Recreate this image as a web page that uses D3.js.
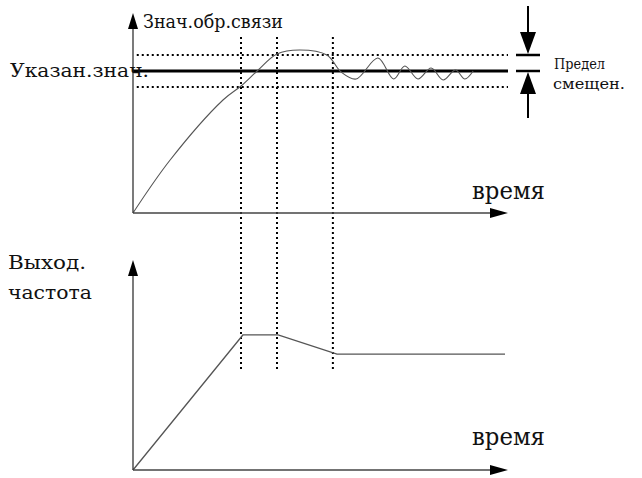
<!DOCTYPE html>
<html><head><meta charset="utf-8">
<script src="https://cdn.jsdelivr.net/npm/d3@7"></script>
<style>html,body{margin:0;padding:0;background:#fff}svg{display:block}</style>
</head><body>
<svg id="c" width="642" height="478"></svg>
<script>
// ---- data ----
const feedbackT = [0, 9.9, 24, 28.8, 33.1, 38.4, 44.5, 51.7, 55.5, 59.5, 65.3, 69.5, 72.5, 76, 79.5, 82.7, 86, 88.5, 90.7];
const feedbackV = [0, 26.5, 56.5, 63.5, 71, 79.5, 81.5, 79, 70.5, 67, 77.5, 67, 73.5, 67, 72.5, 66.5, 71.5, 67, 71];
const setpoint = 71;
const bandUpper = 79;
const bandLower = 63;
const markerT = [28.8, 38.4, 53.3];
const freqT = [0, 29.3, 38.7, 54.4, 99.2];
const freqV = [0, 64.3, 64.3, 55.2, 55.2];
const labels = {
  feedback: "Знач.обр.связи", setpoint: "Указан.знач.", time: "время",
  out1: "Выход.", out2: "частота", lim1: "Предел", lim2: "смещен."
};
const FONT = "'DejaVu Serif', 'Noto Serif', serif";

const svg = d3.select("#c");
const x = d3.scaleLinear().domain([0, 100]).range([133, 508]);
const yTop = d3.scaleLinear().domain([0, 100]).range([213, 13]);
const yBot = d3.scaleLinear().domain([0, 100]).range([470, 260]);

// vertical dotted markers
svg.selectAll("line.vm").data(markerT).enter().append("line")
  .attr("x1", d => x(d)).attr("x2", d => x(d))
  .attr("y1", 37).attr("y2", 370)
  .attr("stroke", "#000").attr("stroke-width", 2).attr("stroke-dasharray", "2 3");

// band dotted lines
svg.selectAll("line.band").data([bandUpper, bandLower]).enter().append("line")
  .attr("x1", x(1)).attr("x2", x(100))
  .attr("y1", d => yTop(d)).attr("y2", d => yTop(d))
  .attr("stroke", "#000").attr("stroke-width", 2).attr("stroke-dasharray", "2 3");

// setpoint line
svg.append("line").attr("x1", x(0)).attr("x2", x(100))
  .attr("y1", yTop(setpoint)).attr("y2", yTop(setpoint))
  .attr("stroke", "#000").attr("stroke-width", 3);

// feedback curve
const fb = feedbackT.map((t, i) => [t, feedbackV[i]]);
svg.append("path").datum(fb)
  .attr("d", d3.line().x(d => x(d[0])).y(d => yTop(d[1])).curve(d3.curveCatmullRom.alpha(0.5)))
  .attr("fill", "none").attr("stroke", "#555").attr("stroke-width", 1.1);

// frequency line
const fr = freqT.map((t, i) => [t, freqV[i]]);
svg.append("path").datum(fr)
  .attr("d", d3.line().x(d => x(d[0])).y(d => yBot(d[1])))
  .attr("fill", "none").attr("stroke", "#555").attr("stroke-width", 1.3);

// axes with arrows
function axes(y) {
  svg.append("line").attr("x1", x(0)).attr("x2", x(0)).attr("y1", y(0)).attr("y2", y(100) + 10)
    .attr("stroke", "#222").attr("stroke-width", 1.2);
  svg.append("line").attr("x1", x(0)).attr("x2", x(100) - 10).attr("y1", y(0)).attr("y2", y(0))
    .attr("stroke", "#444").attr("stroke-width", 1.5);
  const X0 = x(0), Yt = y(100), Xr = x(100), Y0 = y(0);
  svg.append("path").attr("d", `M${X0},${Yt} L${X0 - 5},${Yt + 16} L${X0 + 5},${Yt + 16} Z`).attr("fill", "#000");
  svg.append("path").attr("d", `M${Xr},${Y0} L${Xr - 18},${Y0 - 5} L${Xr - 18},${Y0 + 5} Z`).attr("fill", "#000");
}
axes(yTop);
axes(yBot);

// limit markers on right
const mx = 528, yU = yTop(bandUpper), yS = yTop(setpoint);
svg.append("line").attr("x1", mx).attr("x2", mx).attr("y1", 6).attr("y2", yU - 20).attr("stroke", "#000").attr("stroke-width", 2);
svg.append("path").attr("d", `M${mx},${yU - 1} L${mx - 8},${yU - 23} L${mx + 8},${yU - 23} Z`).attr("fill", "#000");
svg.append("line").attr("x1", mx).attr("x2", mx).attr("y1", yS + 22).attr("y2", 118).attr("stroke", "#000").attr("stroke-width", 2);
svg.append("path").attr("d", `M${mx},${yS + 1} L${mx - 8},${yS + 23} L${mx + 8},${yS + 23} Z`).attr("fill", "#000");
svg.selectAll("line.tick").data([yU, yS]).enter().append("line")
  .attr("x1", 516).attr("x2", 540).attr("y1", d => d).attr("y2", d => d)
  .attr("stroke", "#000").attr("stroke-width", 2.5);

// texts (condensed to Times-like widths)
function label(tx, ty, size, s, w) {
  svg.append("text").attr("x", tx).attr("y", ty).attr("font-size", size)
    .attr("font-family", FONT).attr("fill", "#111")
    .attr("textLength", w).attr("lengthAdjust", "spacingAndGlyphs").text(s);
}
label(143, 28, 19, labels.feedback, 140);
label(10, 77, 19, labels.setpoint, 139);
label(472, 199, 24, labels.time, 73);
label(472, 445, 24, labels.time, 73);
label(8, 269, 19, labels.out1, 78);
label(8, 299, 19, labels.out2, 84);
label(554, 69, 15, labels.lim1, 51);
label(553, 89, 14, labels.lim2, 72);
</script>
</body></html>
